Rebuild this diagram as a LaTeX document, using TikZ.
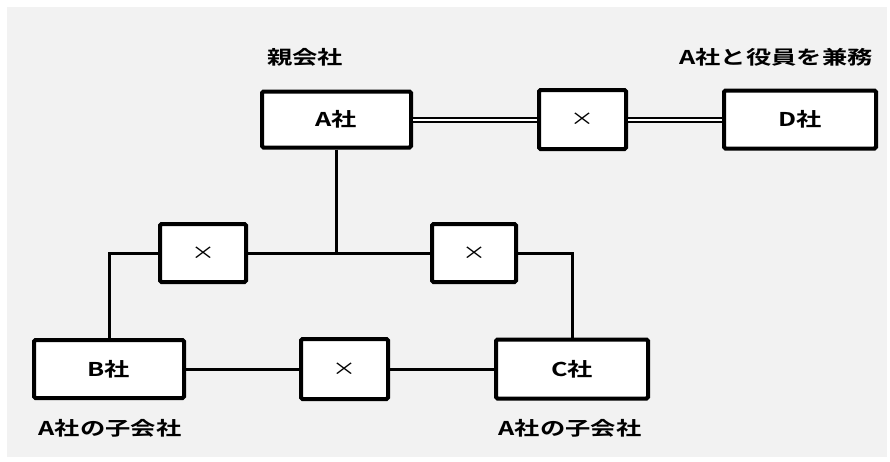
\documentclass[tikz,border=0pt]{standalone}
\usepackage{fontspec}
\setmainfont{Noto Sans CJK JP}[BoldFont={Noto Sans CJK JP Bold},FakeStretch=1.33]
\definecolor{bgc}{HTML}{F2F2F2}
\tikzset{
  box/.style={draw=black, fill=white, line width=4pt, rounded corners=1.5pt, inner sep=0pt, font=\fontsize{19}{19}\selectfont\bfseries},
  xbox/.style={box, font=\fontsize{18}{18}\selectfont},
  lbl/.style={font=\fontsize{19}{19}\selectfont\bfseries, inner sep=0pt},
  conn/.style={line width=3pt},
  dbl/.style={line width=2pt, double=white, double distance=2pt}
}
\begin{document}
\begin{tikzpicture}[x=1pt,y=-1pt]
\useasboundingbox (0,0) rectangle (890,461);
\fill[bgc] (7,7) rectangle (887,457);
\node[box, minimum width=149pt, minimum height=56pt] (A) at (336.5,119.5) {A社};
\node[xbox, minimum width=87pt, minimum height=59pt] (T) at (582.5,119.5) {×};
\node[box, minimum width=152pt, minimum height=58pt] (D) at (800,119.5) {D社};
\node[xbox, minimum width=86pt, minimum height=58pt] (L) at (203,253) {×};
\node[xbox, minimum width=84pt, minimum height=58pt] (R) at (474,253) {×};
\node[box, minimum width=150pt, minimum height=58pt] (B) at (109,369) {B社};
\node[xbox, minimum width=87pt, minimum height=60pt] (M) at (344.5,369) {×};
\node[box, minimum width=152pt, minimum height=59pt] (C) at (572,369) {C社};
\node[lbl] (l1) at (305,57) {親会社};
\node[lbl] (l2) at (776,57) {A社と役員を兼務};
\node[lbl] (l3) at (110,428) {A社の子会社};
\node[lbl] (l4) at (570,428) {A社の子会社};
\draw[dbl] (A.east) -- (T.west);
\draw[dbl] (T.east) -- (D.west);
\draw[conn] (L.east) -- (R.west);
\draw[conn] (A.south) -- (A.south |- L.east);
\draw[conn] (L.west) -| (B.north);
\draw[conn] (R.east) -| (C.north);
\draw[conn] (B.east) -- (M.west);
\draw[conn] (M.east) -- (C.west);
\end{tikzpicture}
\end{document}
